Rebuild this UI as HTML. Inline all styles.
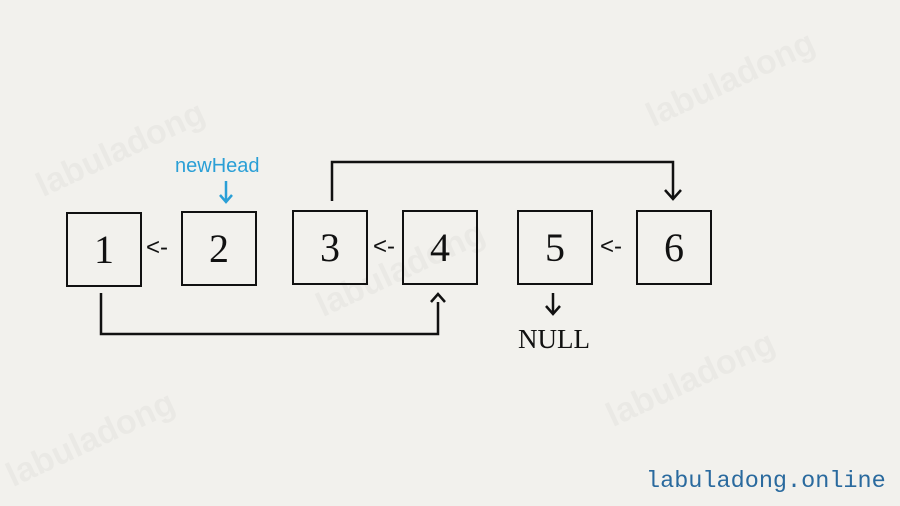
<!DOCTYPE html>
<html><head><style>
body{margin:0;width:900px;height:506px;background:#f2f1ed;overflow:hidden;position:relative;font-family:"Liberation Serif",serif}
.b{position:absolute;width:72px;height:71px;border:2px solid #111;box-sizing:content-box;font-size:40px;text-align:center;line-height:71px;color:#111}
.t{position:absolute;font-family:"Liberation Sans",sans-serif;font-size:24px;color:#111}
.wm{position:absolute;font-family:"Liberation Sans",sans-serif;font-weight:bold;font-size:34px;color:rgba(0,0,0,0.03);transform:rotate(-25deg)}
</style></head><body>
<div class="wm" style="left:30px;top:130px">labuladong</div>
<div class="wm" style="left:640px;top:60px">labuladong</div>
<div class="wm" style="left:310px;top:250px">labuladong</div>
<div class="wm" style="left:600px;top:360px">labuladong</div>
<div class="wm" style="left:0px;top:420px">labuladong</div>
<div class="b" style="left:66px;top:212px">1</div>
<div class="b" style="left:181px;top:211px">2</div>
<div class="b" style="left:292px;top:210px">3</div>
<div class="b" style="left:402px;top:210px">4</div>
<div class="b" style="left:517px;top:210px">5</div>
<div class="b" style="left:636px;top:210px">6</div>
<div class="t" style="left:146px;top:234px">&lt;-</div>
<div class="t" style="left:373px;top:233px">&lt;-</div>
<div class="t" style="left:600px;top:233px">&lt;-</div>
<div style="position:absolute;left:175px;top:155px;font-family:'Liberation Sans',sans-serif;font-size:20px;color:#2a9fd6">newHead</div>
<div style="position:absolute;left:518px;top:324px;font-size:27px;color:#111">NULL</div>
<div style="position:absolute;left:646px;top:468px;font-family:'Liberation Mono',monospace;font-size:23.5px;color:#2a6a9e">labuladong.online</div>
<svg width="900" height="506" style="position:absolute;left:0;top:0" fill="none" stroke-width="2.5">
<g stroke="#111">
<polyline points="332,201 332,162 673,162 673,198"/>
<polyline points="665,190 673,199 681,190"/>
<polyline points="101,293 101,334 438,334 438,302"/>
<polyline points="431,302 438,294 445,302"/>
<line x1="553" y1="293" x2="553" y2="314"/>
<polyline points="546,306 553,314 560,306"/>
</g>
<g stroke="#2a9fd6">
<line x1="226" y1="181" x2="226" y2="202"/>
<polyline points="220,195 226,202 232,195"/>
</g>
</svg>
</body></html>
